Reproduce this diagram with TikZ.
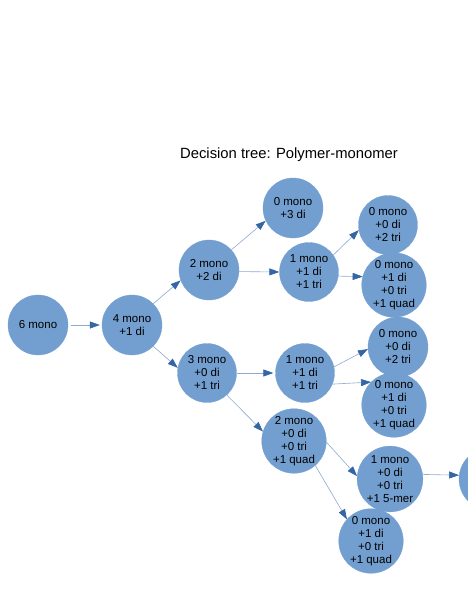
\documentclass[tikz,border=0pt]{standalone}
\usepackage{fontspec}
\setmainfont{Liberation Sans}
\usetikzlibrary{arrows.meta}
\definecolor{nodefill}{HTML}{729FCF}
\definecolor{edgecol}{HTML}{3465A4}
\definecolor{linecol}{HTML}{8FA9D0}
\tikzset{
  state/.style={circle, fill=nodefill, draw=nodefill, line width=0.3pt, inner sep=0pt,
    minimum size=60pt, align=center, font=\fontsize{11.5}{13}\selectfont, text=black},
  arr/.style={draw=linecol, line width=0.6pt,
    -{Triangle[length=10pt,width=7pt,color=edgecol,fill=edgecol]}}
}
\begin{document}
\begin{tikzpicture}[x=1pt,y=-1pt]
\clip (0,0) rectangle (468,605);
\useasboundingbox (0,0) rectangle (468,605);
\node[font=\fontsize{14.8}{17}\selectfont] (title) at (289,155) {Decision tree: Polymer-monomer};
\node[state] (A) at (38,325) {6 mono};
\node[state] (B) at (132,325) {4 mono\\+1 di};
\node[state] (C) at (209,270) {2 mono\\+2 di};
\node[state] (D) at (293,208) {0 mono\\+3 di};
\node[state, minimum size=59pt] (E) at (309,272) {1 mono\\+1 di\\+1 tri};
\node[state, minimum size=59pt] (F) at (388,225) {0 mono\\+0 di\\+2 tri};
\node[state, minimum size=61pt] (G) at (394,285) {0 mono\\+1 di\\+0 tri\\+1 quad};
\node[state, minimum size=59pt] (H) at (207,373) {3 mono\\+0 di\\+1 tri};
\node[state, minimum size=59pt] (I) at (305,373) {1 mono\\+1 di\\+1 tri};
\node[state] (J) at (398,347) {0 mono\\+0 di\\+2 tri};
\node[state, minimum size=61pt] (K) at (394,405) {0 mono\\+1 di\\+0 tri\\+1 quad};
\node[state, minimum size=62pt] (L) at (294,441) {2 mono\\+0 di\\+0 tri\\+1 quad};
\node[state, minimum size=64pt] (M) at (390,479) {1 mono\\+0 di\\+0 tri\\+1 5-mer};
\node[state, minimum size=62pt] (N) at (371,541) {0 mono\\+1 di\\+0 tri\\+1 quad};
\node[state, minimum size=62pt] (O) at (490,479) {};
\draw[arr] ([xshift=3pt]A.east) -- ([xshift=-2pt]B.west);
\draw[arr] (B.45) -- (C.200);
\draw[arr] (C.42) -- (D.205);
\draw[arr] (C.-3) -- (E.180);
\draw[arr] (E.35) -- (F.190);
\draw[arr] (E.-8) -- (G.165);
\draw[arr] (B.-45) -- (H.170);
\draw[arr] (H.east) -- ([xshift=-2pt]I.west);
\draw[arr] (I.12) -- (J.184);
\draw[arr] (I.-22) -- (K.135);
\draw[arr] (H.-48) -- (L.163);
\draw[arr] (L.-2) -- (M.175);
\draw[arr] (L.-49) -- (N.138);
\draw[arr] (M.8) -- (O.173);
\end{tikzpicture}
\end{document}
